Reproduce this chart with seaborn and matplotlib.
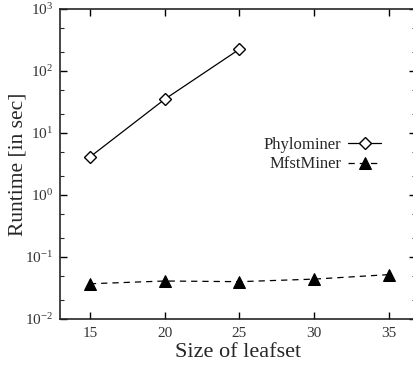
import matplotlib
matplotlib.use("Agg")
import matplotlib.pyplot as plt
import seaborn as sns
import pandas as pd
import numpy as np
from matplotlib.ticker import LogLocator, FixedLocator

sns.set_style("ticks")
plt.rcParams['font.family'] = ['Liberation Serif', 'DejaVu Serif']
plt.rcParams['mathtext.fontset'] = 'custom'
plt.rcParams['mathtext.rm'] = 'Liberation Serif'

leafset_phylo = [15, 20, 25]
runtime_phylo = [4.1, 35, 225]
leafset_mfst = [15, 20, 25, 30, 35]
runtime_mfst = [0.037, 0.041, 0.040, 0.044, 0.052]
x_ticks = [15, 20, 25, 30, 35]

df_p = pd.DataFrame({"x": leafset_phylo, "y": runtime_phylo})
df_m = pd.DataFrame({"x": leafset_mfst, "y": runtime_mfst})

fig = plt.figure(figsize=(4.14, 3.69), dpi=100)
ax = fig.add_axes([60/414, 1-319/369, 356/414, 310/369])

sns.lineplot(data=df_p, x="x", y="y", ax=ax, color="black", linewidth=0.9,
             marker="D", markersize=6.5, markerfacecolor="white",
             markeredgecolor="black", markeredgewidth=1.0, label="Phylominer")
sns.lineplot(data=df_m, x="x", y="y", ax=ax, color="black", linewidth=0.9,
             linestyle=(0, (5, 4)), marker="^", markersize=8.5,
             markerfacecolor="black", markeredgecolor="black", label="MfstMiner")

ax.set_yscale("log")
ax.set_ylim(1e-2, 1e3)
ax.set_xlim(13, 36.8)
ax.xaxis.set_major_locator(FixedLocator(x_ticks))
ax.set_xticklabels([str(t) for t in x_ticks])
ax.yaxis.set_major_locator(LogLocator(base=10, numticks=10))
ax.yaxis.set_minor_locator(LogLocator(base=10, subs=(2, 5), numticks=10))
ax.tick_params(axis="both", which="both", direction="in", top=True, right=True)
ax.tick_params(axis="both", which="major", length=5, width=1, labelsize=11, colors="black", labelcolor="#333333")
ax.tick_params(axis="y", which="minor", length=3, width=0.8)
ax.tick_params(axis="x", pad=6)
ax.tick_params(axis="y", pad=5)
for s in ax.spines.values():
    s.set_linewidth(1.2)

ax.set_xlabel("Size of leafset", fontsize=16, labelpad=2)
ax.set_ylabel("Runtime [in sec]", fontsize=15.5)
ax.yaxis.set_label_coords(-0.092, 0.5)

leg = ax.legend(loc="center left", bbox_to_anchor=(0.53, 0.53), frameon=False,
                markerfirst=False, fontsize=12, handlelength=2.0,
                handletextpad=0.4, labelspacing=0.2)

fig.savefig("out.png", dpi=100)
